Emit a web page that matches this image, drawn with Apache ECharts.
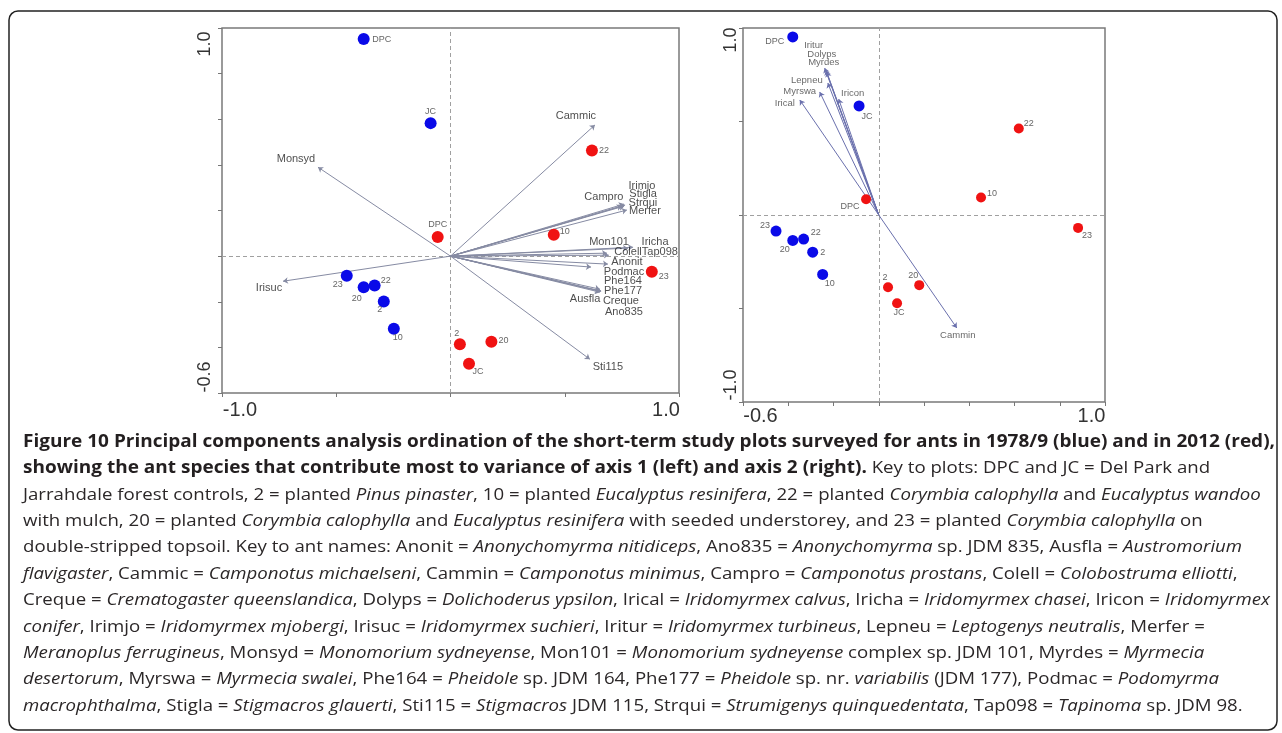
<!DOCTYPE html>
<html><head><meta charset="utf-8">
<script src="https://cdn.jsdelivr.net/npm/echarts@6/dist/echarts.min.js"></script>
<style>html,body{margin:0;padding:0;background:#fff;}#chart{width:1282px;height:733px;}</style>
</head><body><div id="chart"></div>
<script>
// ---------------- DATA ----------------
// PCA scores of study plots (axis 1, axis 2)
const plotNames1978 = ['DPC', 'JC', '23', '20', '22', '2', '10'];
const pc1_1978 = [-0.380, -0.087, -0.454, -0.380, -0.332, -0.292, -0.248];
const pc2_1978 = [0.952, 0.583, -0.086, -0.136, -0.129, -0.199, -0.318];
const plotNames2012 = ['22', 'DPC', '10', '23', '2', '20', 'JC'];
const pc1_2012 = [0.619, -0.056, 0.452, 0.881, 0.041, 0.179, 0.081];
const pc2_2012 = [0.463, 0.084, 0.094, -0.069, -0.386, -0.375, -0.472];

// Species loadings, axis 1 panel (left)
const axis1Species = ['Cammic', 'Monsyd', 'Irisuc', 'Sti115', 'Campro', 'Irimjo', 'Stigla', 'Strqui', 'Merfer', 'Mon101', 'Iricha', 'Colell', 'Tap098', 'Anonit', 'Podmac', 'Phe164', 'Phe177', 'Creque', 'Ano835', 'Ausfla'];
const axis1LoadX = [0.632, -0.580, -0.733, 0.610, 0.750, 0.759, 0.764, 0.759, 0.772, 0.777, 0.799, 0.685, 0.693, 0.689, 0.615, 0.654, 0.659, 0.654, 0.654, 0.659];
const axis1LoadY = [0.575, 0.390, -0.110, -0.452, 0.219, 0.228, 0.224, 0.219, 0.202, 0.035, 0.039, 0.013, 0.004, -0.035, -0.048, -0.145, -0.154, -0.154, -0.158, -0.153];

// Species loadings, axis 2 panel (right)
const axis2Species = ['Iritur', 'Dolyps', 'Myrdes', 'Lepneu', 'Myrswa', 'Iricon', 'Irical', 'Cammin'];
const axis2LoadX = [-0.239, -0.234, -0.230, -0.225, -0.261, -0.177, -0.349, 0.345];
const axis2LoadY = [0.786, 0.775, 0.765, 0.706, 0.658, 0.620, 0.615, -0.604];

// Tick labels (only end labels are printed)
const leftXTicks = ['-1.0', '1.0'];
const leftYTicks = ['-0.6', '1.0'];
const rightXTicks = ['-0.6', '1.0'];
const rightYTicks = ['-1.0', '1.0'];

// Caption (b = bold, n = normal, i = italic)
const captionLines = [
  [['b', 'Figure 10 Principal components analysis ordination of the short-term study plots surveyed for ants in 1978/9 (blue) and in 2012 (red),']],
  [['b', 'showing the ant species that contribute most to variance of axis 1 (left) and axis 2 (right).'], ['n', ' Key to plots: DPC and JC = Del Park and']],
  [['n', 'Jarrahdale forest controls, 2 = planted '], ['i', 'Pinus pinaster'], ['n', ', 10 = planted '], ['i', 'Eucalyptus resinifera'], ['n', ', 22 = planted '], ['i', 'Corymbia calophylla'], ['n', ' and '], ['i', 'Eucalyptus wandoo']],
  [['n', 'with mulch, 20 = planted '], ['i', 'Corymbia calophylla'], ['n', ' and '], ['i', 'Eucalyptus resinifera'], ['n', ' with seeded understorey, and 23 = planted '], ['i', 'Corymbia calophylla'], ['n', ' on']],
  [['n', 'double-stripped topsoil. Key to ant names: Anonit = '], ['i', 'Anonychomyrma nitidiceps'], ['n', ', Ano835 = '], ['i', 'Anonychomyrma'], ['n', ' sp. JDM 835, Ausfla = '], ['i', 'Austromorium']],
  [['i', 'flavigaster'], ['n', ', Cammic = '], ['i', 'Camponotus michaelseni'], ['n', ', Cammin = '], ['i', 'Camponotus minimus'], ['n', ', Campro = '], ['i', 'Camponotus prostans'], ['n', ', Colell = '], ['i', 'Colobostruma elliotti'], ['n', ',']],
  [['n', 'Creque = '], ['i', 'Crematogaster queenslandica'], ['n', ', Dolyps = '], ['i', 'Dolichoderus ypsilon'], ['n', ', Irical = '], ['i', 'Iridomyrmex calvus'], ['n', ', Iricha = '], ['i', 'Iridomyrmex chasei'], ['n', ', Iricon = '], ['i', 'Iridomyrmex']],
  [['i', 'conifer'], ['n', ', Irimjo = '], ['i', 'Iridomyrmex mjobergi'], ['n', ', Irisuc = '], ['i', 'Iridomyrmex suchieri'], ['n', ', Iritur = '], ['i', 'Iridomyrmex turbineus'], ['n', ', Lepneu = '], ['i', 'Leptogenys neutralis'], ['n', ', Merfer =']],
  [['i', 'Meranoplus ferrugineus'], ['n', ', Monsyd = '], ['i', 'Monomorium sydneyense'], ['n', ', Mon101 = '], ['i', 'Monomorium sydneyense'], ['n', ' complex sp. JDM 101, Myrdes = '], ['i', 'Myrmecia']],
  [['i', 'desertorum'], ['n', ', Myrswa = '], ['i', 'Myrmecia swalei'], ['n', ', Phe164 = '], ['i', 'Pheidole'], ['n', ' sp. JDM 164, Phe177 = '], ['i', 'Pheidole'], ['n', ' sp. nr. '], ['i', 'variabilis'], ['n', ' (JDM 177), Podmac = '], ['i', 'Podomyrma']],
  [['i', 'macrophthalma'], ['n', ', Stigla = '], ['i', 'Stigmacros glauerti'], ['n', ', Sti115 = '], ['i', 'Stigmacros'], ['n', ' JDM 115, Strqui = '], ['i', 'Strumigenys quinquedentata'], ['n', ', Tap098 = '], ['i', 'Tapinoma'], ['n', ' sp. JDM 98.']]
];

// ---------------- LAYOUT (label offsets in px) ----------------
const offLeft78 = {DPC: [18, 1], JC: [0, -12], '23': [-9, 9], '20': [-7, 11], '22': [11, -5], '2': [-4, 8], '10': [4, 9]};
const offLeft12 = {'22': [12, 0], DPC: [0, -12], '10': [11, -3], '23': [12, 5], '2': [-3, -11], '20': [12, -1], JC: [9, 8]};
const offRight78 = {DPC: [-18, 5], JC: [8, 11], '23': [-11, -6], '20': [-8, 9], '22': [12, -7], '2': [10, 0], '10': [7, 9]};
const offRight12 = {'22': [10, -5], '10': [11, -4], DPC: [-16, 7], '23': [9, 8], '2': [-3, -10], '20': [-6, -10], JC: [2, 9]};
const offLeftSp = {Cammic: [-19, -9], Monsyd: [-22, -8], Irisuc: [-14, 7], Sti115: [18, 8], Campro: [-18, -9], Irimjo: [18, -18], Stigla: [18, -11], Strqui: [19, -3], Merfer: [18, 1], Mon101: [-19, -6], Iricha: [22, -5], Colell: [21, -1], Tap098: [51, -3], Anonit: [19, -2], Podmac: [33, 5], Phe164: [23, -8], Phe177: [22, 0], Creque: [21, 10], Ano835: [24, 20], Ausfla: [-16, 8]};
const offRightSp = {Iritur: [-11, -23], Dolyps: [-4, -16], Myrdes: [-3, -10], Lepneu: [-21, -3], Myrswa: [-20, -1], Iricon: [14, -6], Irical: [-15, 3], Cammin: [1, 7]};

const FONT = '"Liberation Sans", Arial, sans-serif';
const BLUE = '#0a0ae8';
const RED = '#f01212';

function pointSeries(gi, names, xs, ys, color, offs, size) {
  return {
    type: 'scatter', xAxisIndex: gi, yAxisIndex: gi, symbol: 'circle', symbolSize: size, z: 5,
    itemStyle: {color: color, opacity: 1},
    label: {show: true, position: 'inside', formatter: '{b}', color: '#666', fontSize: 9, fontFamily: FONT},
    data: names.map((n, i) => ({name: n, value: [xs[i], ys[i]], label: {offset: offs[n]}})),
    silent: true
  };
}
function arrowSeries(gi, xs, ys, color) {
  return {
    type: 'lines', coordinateSystem: 'cartesian2d', xAxisIndex: gi, yAxisIndex: gi, z: 3,
    symbol: ['none', 'arrow'], symbolSize: [0, 5],
    lineStyle: {color: color, width: 1, opacity: 1},
    data: xs.map((x, i) => ({coords: [[0, 0], [x, ys[i]]]})),
    silent: true
  };
}
function speciesLabelSeries(gi, names, xs, ys, offs, fs, col) {
  return {
    type: 'scatter', xAxisIndex: gi, yAxisIndex: gi, symbolSize: 1, z: 4,
    itemStyle: {color: 'rgba(0,0,0,0)'},
    label: {show: true, position: 'inside', formatter: '{b}', color: col, fontSize: fs, fontFamily: FONT},
    data: names.map((n, i) => ({name: n, value: [xs[i], ys[i]], label: {offset: offs[n]}})),
    markLine: {
      silent: true, symbol: ['none', 'none'], label: {show: false}, z: 1,
      lineStyle: {type: [4, 3], color: '#a0a0a0', width: 1},
      data: [{xAxis: 0}, {yAxis: 0}]
    },
    silent: true
  };
}
function endLabels(ticks, min, max, padLo, padHi, fs, rot) {
  return {
    show: true, rotate: rot || 0, fontFamily: FONT, color: '#333', fontSize: fs,
    formatter: function (v) {
      if (Math.abs(v - min) < 1e-6) return '{lo|' + ticks[0] + '}';
      if (Math.abs(v - max) < 1e-6) return '{hi|' + ticks[1] + '}';
      return '';
    },
    rich: {
      lo: {fontSize: fs, fontFamily: FONT, color: '#333', padding: [0, 0, 0, padLo]},
      hi: {fontSize: fs, fontFamily: FONT, color: '#333', padding: [0, padHi, 0, 0]}
    }
  };
}
function valueAxis(gi, min, max, interval, label, margin) {
  const lab = Object.assign({margin: margin}, label);
  return {
    type: 'value', gridIndex: gi, min: min, max: max, interval: interval,
    axisLine: {show: false, onZero: false},
    splitLine: {show: false},
    axisTick: {show: true, inside: false, length: 4, lineStyle: {color: '#777', width: 1}},
    axisLabel: lab
  };
}

// caption scaling (match the printed line width)
const CAP_SIZE = 17;            // bold heading size
const CAP_SIZE_TXT = 16.7;      // regular / italic size (narrower face in print)
const CAP_FONT = '"Open Sans", "Noto Sans", sans-serif';
const ctx = document.createElement('canvas').getContext('2d');
function capFont(s) { return (s === 'i' ? 'italic ' : 'normal ') + (s === 'b' ? 'bold ' : 'normal ') + (s === 'b' ? CAP_SIZE : CAP_SIZE_TXT) + 'px ' + CAP_FONT; }
let firstW = 0;
captionLines[0].forEach(function (seg) { ctx.font = capFont(seg[0]); firstW += ctx.measureText(seg[1]).width; });
const capScale = 1252 / firstW;
const capRich = {
  b: {fontSize: CAP_SIZE, fontFamily: CAP_FONT, fontWeight: 'bold', fill: '#231f20'},
  n: {fontSize: CAP_SIZE_TXT, fontFamily: CAP_FONT, fontWeight: 'normal', fill: '#2b2728'},
  i: {fontSize: CAP_SIZE_TXT, fontFamily: CAP_FONT, fontStyle: 'italic', fill: '#2b2728'}
};
const captionGraphics = captionLines.map(function (segs, k) {
  return {
    type: 'text', x: 23, y: 442 + k * 26.4, scaleX: capScale, silent: true,
    style: {
      text: segs.map(function (s) { return '{' + s[0] + '|' + s[1] + '}'; }).join(''),
      rich: capRich, verticalAlign: 'middle', align: 'left', fill: '#231f20',
      fontSize: CAP_SIZE, fontFamily: CAP_FONT
    }
  };
});

const chart = echarts.init(document.getElementById('chart'), null, {renderer: 'canvas'});
chart.setOption({
  animation: false,
  backgroundColor: '#fff',
  grid: [
    {left: 222, top: 28, width: 457, height: 365, show: true, borderColor: '#7a7a7a', borderWidth: 1.5, backgroundColor: 'transparent'},
    {left: 743, top: 28, width: 362, height: 374, show: true, borderColor: '#7a7a7a', borderWidth: 1.5, backgroundColor: 'transparent'}
  ],
  xAxis: [
    valueAxis(0, -1, 1, 0.5, endLabels(leftXTicks, -1, 1, 36, 26, 20), 7),
    valueAxis(1, -0.6, 1, 0.2, endLabels(rightXTicks, -0.6, 1, 35, 27, 20), 4)
  ],
  yAxis: [
    valueAxis(0, -0.6, 1, 0.2, endLabels(leftYTicks, -0.6, 1, 32, 32, 18, 90), 8),
    valueAxis(1, -1, 1, 0.5, endLabels(rightYTicks, -1, 1, 34, 24, 18, 90), 3)
  ],
  series: [
    speciesLabelSeries(0, axis1Species, axis1LoadX, axis1LoadY, offLeftSp, 11, '#222'),
    arrowSeries(0, axis1LoadX, axis1LoadY, '#868ba3'),
    pointSeries(0, plotNames1978, pc1_1978, pc2_1978, BLUE, offLeft78, 12),
    pointSeries(0, plotNames2012, pc1_2012, pc2_2012, RED, offLeft12, 12),
    speciesLabelSeries(1, axis2Species, axis2LoadX, axis2LoadY, offRightSp, 9.5, '#444'),
    arrowSeries(1, axis2LoadX, axis2LoadY, '#6a70ad'),
    pointSeries(1, plotNames1978, pc1_1978, pc2_1978, BLUE, offRight78, 11),
    pointSeries(1, plotNames2012, pc1_2012, pc2_2012, RED, offRight12, 10)
  ],
  graphic: [
    {type: 'rect', silent: true, shape: {x: 9, y: 11, width: 1268, height: 719, r: 9}, style: {fill: 'none', stroke: '#222', lineWidth: 1.5}}
  ].concat(captionGraphics)
});
</script>
</body></html>
